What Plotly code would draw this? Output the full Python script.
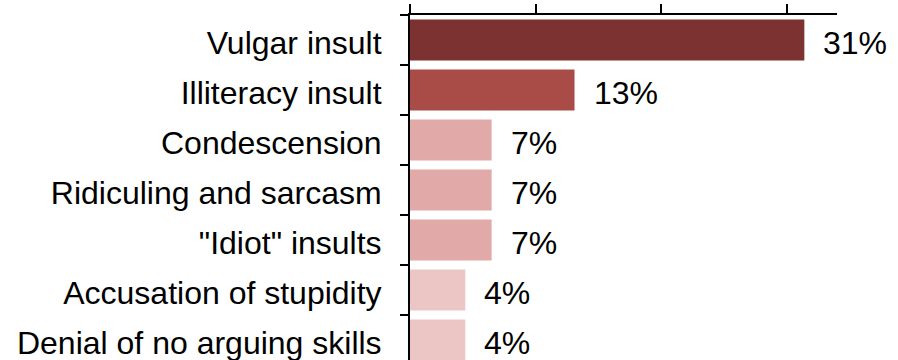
import plotly.graph_objects as go

categories = ["Vulgar insult", "Illiteracy insult", "Condescension",
              "Ridiculing and sarcasm", "\"Idiot\" insults",
              "Accusation of stupidity", "Denial of no arguing skills"]
values = [31.4, 13.1, 6.5, 6.5, 6.5, 4.4, 4.4]
labels = ["31%", "13%", "7%", "7%", "7%", "4%", "4%"]
colors = ["#7b3230", "#a94b46", "#e1a9a8", "#e1a9a8", "#e1a9a8", "#ebc6c5", "#ebc6c5"]

FONT = "Liberation Sans, Arial, sans-serif"

fig = go.Figure()
fig.add_trace(go.Bar(
    x=values, y=categories, orientation="h",
    marker=dict(color=colors, line=dict(width=0)),
    hoverinfo="skip",
))

for c, v, t in zip(categories, values, labels):
    fig.add_annotation(x=v, y=c, text=t, showarrow=False,
                       xanchor="left", yanchor="middle", xshift=17, yshift=-3,
                       font=dict(family=FONT, size=32, color="#000000"))

fig.update_layout(
    width=898, height=360,
    margin=dict(l=410, r=61, t=15, b=0),
    paper_bgcolor="white", plot_bgcolor="white",
    bargap=0.18, showlegend=False,
    font=dict(family=FONT, size=32, color="#000000"),
)
fig.update_xaxes(
    side="top", range=[0, 34], tickvals=[0, 10, 20, 30],
    showticklabels=False, showgrid=False, zeroline=False,
    showline=True, linecolor="#000000", linewidth=2,
    ticks="outside", ticklen=9, tickwidth=2, tickcolor="#000000",
)
fig.update_yaxes(
    categoryorder="array", categoryarray=categories,
    range=[6.4, -0.5], tickson="boundaries",
    showgrid=False, zeroline=False,
    showline=True, linecolor="#000000", linewidth=2,
    ticks="outside", ticklen=8, tickwidth=2, tickcolor="#000000",
    ticklabelstandoff=20, ticklabelshift=-3,
    tickfont=dict(family=FONT, size=32, color="#000000"),
)

fig.write_html("out.html")
